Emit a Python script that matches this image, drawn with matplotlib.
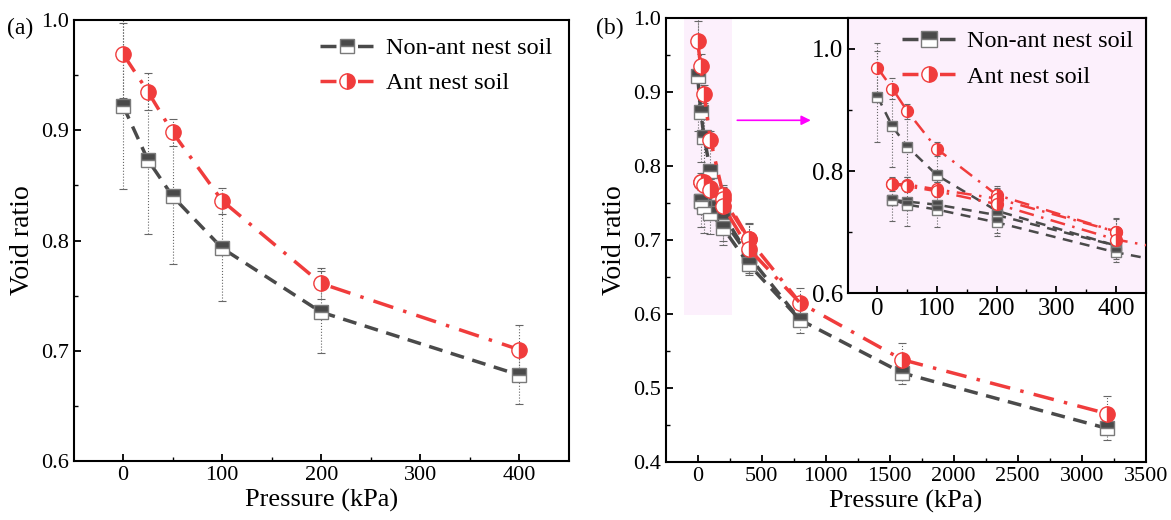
import numpy as np
import matplotlib
matplotlib.use('Agg')
import matplotlib.pyplot as plt
from matplotlib.patches import Rectangle

plt.rcParams['font.family'] = ['Liberation Serif', 'DejaVu Serif']
plt.rcParams['xtick.direction'] = 'in'
plt.rcParams['ytick.direction'] = 'in'

# loading path (both panels)
p_load = [0, 25, 50, 100, 200, 400, 800, 1600, 3200]
non_load = [0.922, 0.873, 0.840, 0.793, 0.735, 0.678, 0.592, 0.520, 0.445]
ant_load = [0.969, 0.935, 0.898, 0.836, 0.761, 0.701, 0.615, 0.538, 0.465]
non_load_err = [0.075, 0.067, 0.061, 0.048, 0.037, 0.026, 0.018, 0.015, 0.015]
ant_load_err = [0.040, 0.017, 0.012, 0.012, 0.014, 0.022, 0.020, 0.022, 0.024]

# unloading / reloading path (panel b)
p_cyc = [25, 50, 100, 200, 400]
non_unload = [0.753, 0.750, 0.745, 0.728, 0.678]
non_reload = [0.753, 0.745, 0.737, 0.716, 0.667]
ant_unload = [0.779, 0.778, 0.770, 0.755, 0.701]
ant_reload = [0.779, 0.775, 0.767, 0.746, 0.688]
non_cyc_err = [0.035, 0.040, 0.037, 0.035, 0.022]
ant_cyc_err = [0.012, 0.012, 0.012, 0.015, 0.020]

grey = '#4a4a4a'
red = '#f03c3c'
pink = '#fcf0fc'

sq = dict(marker='s', fillstyle='top', markerfacecolor=grey, markerfacecoloralt='white',
          markeredgecolor='#7a7a7a')
ci = dict(marker='o', fillstyle='right', markerfacecolor=red, markerfacecoloralt='white',
          markeredgecolor=red)


def errbars(ax, x, y, e, cap=3):
    eb = ax.errorbar(x, y, yerr=e, fmt='none', ecolor='#666666', elinewidth=0.8,
                     capsize=cap, capthick=0.8, zorder=2)
    eb[2][0].set_linestyle(':')


def style(ax, fs):
    for s in ax.spines.values():
        s.set_linewidth(1.5)
    ax.tick_params(which='major', length=5, width=1.3, labelsize=fs)
    ax.tick_params(which='minor', length=3, width=1.0)


def fix_legend(leg):
    for h in leg.legend_handles:
        h.set_linewidth(2.5)
        h.set_linestyle((0, (4.6, 6.2)))


fig = plt.figure(figsize=(11.71, 5.2), dpi=100)

# ---------- (a) ----------
ax1 = fig.add_axes([0.0629, 0.1135, 0.4228, 0.848])
n = 6
errbars(ax1, p_load[:n], non_load[:n], non_load_err[:n])
errbars(ax1, p_load[:n], ant_load[:n], ant_load_err[:n])
ax1.plot(p_load[:n], non_load[:n], color=grey, ls=(0, (4, 2.5)), lw=2.5, ms=10, zorder=3,
         label='Non-ant nest soil', **sq)
ax1.plot(p_load[:n], ant_load[:n], color=red, ls=(0, (6, 3, 1, 3)), lw=2.5, ms=11, zorder=4,
         label='Ant nest soil', **ci)
ax1.set_xlim(-50, 450)
ax1.set_ylim(0.6, 1.0)
ax1.set_xticks([0, 100, 200, 300, 400])
ax1.set_xticks([50, 150, 250, 350], minor=True)
ax1.set_yticks([0.6, 0.7, 0.8, 0.9, 1.0])
ax1.set_yticks([0.65, 0.75, 0.85, 0.95], minor=True)
ax1.yaxis.set_major_formatter(plt.FormatStrFormatter('%.1f'))
style(ax1, 16)
ax1.set_xlabel('Pressure (kPa)', fontsize=19, labelpad=3)
ax1.set_ylabel('Void ratio', fontsize=20, labelpad=4)
leg1 = ax1.legend(loc='upper right', frameon=False, fontsize=17.5, handlelength=2.2,
                  handletextpad=0.5, borderaxespad=0.3, labelspacing=0.55)
fix_legend(leg1)
fig.text(0.006, 0.965, '(a)', fontsize=17, va='top')

# ---------- (b) ----------
ax2 = fig.add_axes([0.5684, 0.1121, 0.41, 0.8527])
ax2.add_patch(Rectangle((-105, 0.598), 376, 0.402, facecolor=pink, edgecolor='none', zorder=0))
errbars(ax2, p_load, non_load, non_load_err)
errbars(ax2, p_load, ant_load, ant_load_err)
errbars(ax2, p_cyc, non_unload, non_cyc_err)
errbars(ax2, p_cyc, ant_unload, ant_cyc_err)
ax2.plot(p_load, non_load, color=grey, ls=(0, (4, 2.5)), lw=2.5, ms=10, zorder=3, **sq)
ax2.plot(p_cyc, non_unload, color=grey, ls=(0, (4, 2.5)), lw=2.5, ms=10, zorder=3, **sq)
ax2.plot(p_cyc + [800], non_reload + [non_load[6]], color=grey, ls=(0, (4, 2.5)), lw=2.5,
         ms=10, markevery=[0, 1, 2, 3, 4], zorder=3, **sq)
ax2.plot(p_load, ant_load, color=red, ls=(0, (6, 3, 1, 3)), lw=2.5, ms=11, zorder=4, **ci)
ax2.plot(p_cyc, ant_unload, color=red, ls=(0, (6, 3, 1, 3)), lw=2.5, ms=11, zorder=4, **ci)
ax2.plot(p_cyc + [800], ant_reload + [ant_load[6]], color=red, ls=(0, (6, 3, 1, 3)), lw=2.5,
         ms=11, markevery=[0, 1, 2, 3, 4], zorder=4, **ci)
ax2.annotate('', xy=(906, 0.862), xytext=(288, 0.862),
             arrowprops=dict(arrowstyle='-|>', color='#ff00ff', lw=1.2, mutation_scale=14))
ax2.set_xlim(-250, 3500)
ax2.set_ylim(0.4, 1.0)
ax2.set_xticks(np.arange(0, 3501, 500))
ax2.set_xticks(np.arange(250, 3500, 500), minor=True)
ax2.set_yticks([0.4, 0.5, 0.6, 0.7, 0.8, 0.9, 1.0])
ax2.set_yticks([0.45, 0.55, 0.65, 0.75, 0.85, 0.95], minor=True)
ax2.yaxis.set_major_formatter(plt.FormatStrFormatter('%.1f'))
style(ax2, 16)
ax2.set_xlabel('Pressure (kPa)', fontsize=19, labelpad=3)
ax2.set_ylabel('Void ratio', fontsize=20, labelpad=4)
fig.text(0.509, 0.965, '(b)', fontsize=17, va='top')

# ---------- inset ----------
ax3 = fig.add_axes([0.7239, 0.436, 0.2545, 0.5288])
ax3.set_facecolor(pink)
n = 6
errbars(ax3, p_load[:n], non_load[:n], non_load_err[:n], cap=2.5)
errbars(ax3, p_load[:n], ant_load[:n], ant_load_err[:n], cap=2.5)
errbars(ax3, p_cyc, non_unload, non_cyc_err, cap=2.5)
errbars(ax3, p_cyc, ant_unload, ant_cyc_err, cap=2.5)
ax3.plot(p_load[:n], non_load[:n], color=grey, ls=(0, (4, 3)), lw=1.8, ms=7.5, zorder=3,
         label='Non-ant nest soil', **sq)
ax3.plot(p_cyc, non_unload, color=grey, ls=(0, (4, 3)), lw=1.8, ms=7.5, zorder=3, **sq)
ax3.plot(p_cyc + [800], non_reload + [non_load[6]], color=grey, ls=(0, (4, 3)), lw=1.8,
         ms=7.5, markevery=[0, 1, 2, 3, 4], zorder=3, **sq)
ax3.plot(p_load[:n], ant_load[:n], color=red, ls=(0, (6, 3, 1, 3)), lw=1.8, ms=8.5, zorder=4,
         label='Ant nest soil', **ci)
ax3.plot(p_cyc, ant_unload, color=red, ls=(0, (6, 3, 1, 3)), lw=1.8, ms=8.5, zorder=4, **ci)
ax3.plot(p_cyc + [800], ant_reload + [ant_load[6]], color=red, ls=(0, (6, 3, 1, 3)), lw=1.8,
         ms=8.5, markevery=[0, 1, 2, 3, 4], zorder=4, **ci)
ax3.set_xlim(-50, 450)
ax3.set_ylim(0.6, 1.05)
ax3.set_xticks([0, 100, 200, 300, 400])
ax3.set_xticks([50, 150, 250, 350], minor=True)
ax3.set_yticks([0.6, 0.8, 1.0])
ax3.set_yticks([0.7, 0.9], minor=True)
ax3.yaxis.set_major_formatter(plt.FormatStrFormatter('%.1f'))
style(ax3, 18)
leg3 = ax3.legend(loc='upper right', frameon=False, fontsize=17.5, handlelength=2.2,
                  handletextpad=0.5, borderaxespad=0.1, labelspacing=0.55)
for h in leg3.legend_handles:
    h.set_markersize(11)
fix_legend(leg3)

fig.savefig('out.png', dpi=100)
